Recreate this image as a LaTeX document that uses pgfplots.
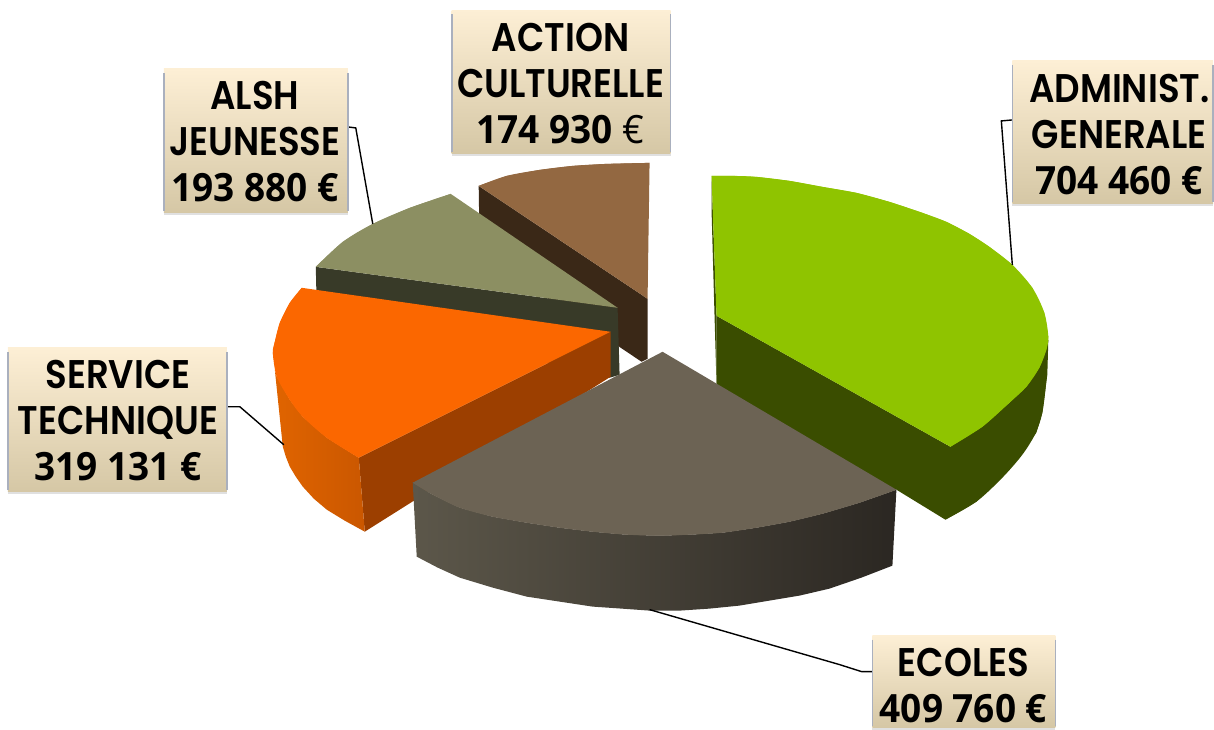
\documentclass[border=0pt]{standalone}
\usepackage{fontspec}
\setmainfont{Poppins}[BoldFont={Poppins SemiBold},FakeStretch=0.89]
\newfontfamily\chif{Open Sans}[FakeStretch=0.95]
\usepackage{pgfplots}
\pgfplotsset{compat=1.18}
\usetikzlibrary{shadings}

\definecolor{vert}{HTML}{8FC400}
\definecolor{vertD}{HTML}{3A4D00}
\definecolor{oran}{HTML}{FB6700}
\definecolor{oranD}{HTML}{9C3F00}
\definecolor{oranL}{HTML}{E06400}
\definecolor{oranR}{HTML}{CA5700}
\definecolor{kaki}{HTML}{8C8F62}
\definecolor{kakiD}{HTML}{383A28}
\definecolor{brun}{HTML}{936841}
\definecolor{brunD}{HTML}{3A2817}
\definecolor{ecol}{HTML}{6C6354}
\definecolor{ecolL}{HTML}{5C574A}
\definecolor{ecolM}{HTML}{443D36}
\definecolor{ecolR}{HTML}{2B2722}
\definecolor{boxT}{HTML}{FDEFD5}
\definecolor{boxM}{HTML}{F0E9D4}
\definecolor{boxB}{HTML}{D5C7A5}
\definecolor{boxS}{HTML}{AAB0BE}

% label box: x0 y0 x1 y1
\newcommand{\lbox}[4]{%
  \fill[black!12] (axis cs:#1,#4) rectangle (axis cs:#3,#4+2);
  \path[top color=boxT,middle color=boxM,bottom color=boxB] (axis cs:#1,#2) rectangle (axis cs:#3,#4);
  \draw[boxS,line width=0.8pt] (axis cs:#1,#2+4) -- (axis cs:#1,#4-2);
  \draw[boxS,line width=0.8pt] (axis cs:#3,#2+4) -- (axis cs:#3,#4-2);
}
\tikzset{lab/.style={align=center,inner sep=0pt,font=\fontsize{20}{23}\selectfont\bfseries}}
\newcommand{\val}[1]{{\chif\fontsize{19.5}{23}\selectfont #1}}

\begin{document}
\begin{tikzpicture}
\begin{axis}[
    scale only axis,
    width=607pt,
    height=365pt,
    xmin=0,xmax=1214,
    ymin=0,ymax=730,
    y dir=reverse,
    hide axis,
    clip=false
]
\path (axis cs:0,0) rectangle (axis cs:1214,730);
% ACTION CULTURELLE
\addplot[draw=none,fill=brunD] coordinates {(479,186) (648,299) (648,359) (642,362) (480,253)} -- cycle;
\addplot[draw=none,fill=brun] coordinates {(479,186) (507,176) (540,170) (573,166) (607,164) (650,163) (649,230) (648,299)} -- cycle;
\addplot[draw=none,fill=brun,smooth] coordinates {(479,186) (507,176) (540,170) (573,166) (607,164) (650,163)};
% ALSH JEUNESSE
\addplot[draw=none,fill=kakiD] coordinates {(316,267) (618,308) (620,375) (610,378) (317,310)} -- cycle;
\addplot[draw=none,fill=kaki] coordinates {(316,267) (343,242) (373,224) (410,208) (451,194) (618,308)} -- cycle;
\addplot[draw=none,fill=kaki,smooth] coordinates {(316,267) (343,242) (373,224) (410,208) (451,194)};
% SERVICE TECHNIQUE
\addplot[draw=none,fill=oranD] coordinates {(359,458) (611,332) (611,377) (365,532)} -- cycle;
\addplot[draw=none,left color=oranL,right color=oranR] coordinates {(275,370) (277,377) (290,400) (303,417) (327,438) (359,458) (365,532) (345,521) (327,510) (314,499) (303,487) (296,477) (290,467) (286,457) (283,447)} -- cycle;
\addplot[draw=none,fill=oran] coordinates {(302,288) (290,303) (280,323) (275,342) (273,353) (277,377) (290,400) (303,417) (327,438) (359,458) (611,332)} -- cycle;
\addplot[draw=none,fill=oran,smooth] coordinates {(302,288) (290,303) (280,323) (275,342) (273,353) (277,377) (290,400) (303,417) (327,438) (359,458)};
% ADMINIST. GENERALE
\addplot[draw=none,fill=vertD] coordinates {(712,176) (717,316) (717,385) (715,316) (712,210)} -- cycle;
\addplot[draw=none,fill=vertD] coordinates {(717,316) (951,447) (1010,403) (1040,368) (1049,340) (1048,375) (1043,413) (1037,433) (1023,453) (1003,477) (977,502) (946,520) (897,490) (870,490) (717,395)} -- cycle;
\addplot[draw=none,fill=vertD,smooth] coordinates {(1048,348) (1047,380) (1043,413) (1036,434) (1023,455) (1003,478) (977,502) (946,520)};
\addplot[draw=none,fill=vert] coordinates {(712,176) (733,176) (757,177) (790,181) (823,187) (857,193) (890,202) (923,213) (947,222) (970,234) (990,247) (1013,265) (1033,288) (1045,313) (1049,337) (1047,350) (1040,368) (1027,387) (1010,403) (983,427) (951,447) (717,316)} -- cycle;
\addplot[draw=none,fill=vert,smooth] coordinates {(712,176) (733,176) (757,177) (790,181) (823,187) (857,193) (890,202) (923,213) (947,222) (970,234) (990,247) (1013,265) (1033,288) (1045,313) (1049,337) (1047,350) (1040,368) (1027,387) (1010,403) (983,427) (951,447)};
% ECOLES
\addplot[draw=none,left color=ecolL,middle color=ecolM,right color=ecolR] coordinates {(413,483) (433,495) (460,508) (493,517) (527,523) (560,528) (593,532) (627,535) (660,536) (690,535) (723,533) (757,528) (790,522) (823,514) (860,503) (897,490) (893,566) (862,578) (830,589) (800,596) (770,601) (740,606) (710,609) (680,611) (650,611) (622,609) (593,607) (560,602) (527,597) (493,588) (460,578) (438,568) (417,557)} -- cycle;
\addplot[draw=none,fill=ecol] coordinates {(663,352) (897,490) (860,503) (823,514) (790,522) (757,528) (723,533) (690,535) (660,536) (627,535) (593,532) (560,528) (527,523) (493,517) (460,508) (433,495) (413,483)} -- cycle;
\addplot[draw=none,fill=ecol,smooth] coordinates {(897,490) (860,503) (823,514) (790,522) (757,528) (723,533) (690,535) (660,536) (627,535) (593,532) (560,528) (527,523) (493,517) (460,508) (433,495) (413,483)};
% leader lines
\addplot[black,line width=0.7pt] coordinates {(1013,120) (1002,121) (1013,265)};
\addplot[black,line width=0.7pt] coordinates {(348,127) (356,128) (373,224)};
\addplot[black,line width=0.7pt] coordinates {(228,407) (240,407) (284,445)};
\addplot[black,line width=0.7pt] coordinates {(873,672) (862,672) (840,665) (650,610)};
% labels
\lbox{452}{10}{671}{154}
\lbox{164}{69}{348}{213}
\lbox{8}{348}{227}{492}
\lbox{1013}{61}{1214}{204}
\lbox{873}{636}{1056}{728}
\node[lab] at (axis cs:561,84) {ACTION\\CULTURELLE\\\val{174 930 {\mdseries €}}};
\node[lab] at (axis cs:255,142) {ALSH\\JEUNESSE\\\val{193 880 €}};
\node[lab] at (axis cs:118,421) {SERVICE\\TECHNIQUE\\\val{319 131 €}};
\node[lab] at (axis cs:1120,135) {ADMINIST.\\GENERALE\\\val{704 460 €}};
\node[lab] at (axis cs:964,686) {ECOLES\\\val{409 760 €}};
\end{axis}
\end{tikzpicture}
\end{document}
